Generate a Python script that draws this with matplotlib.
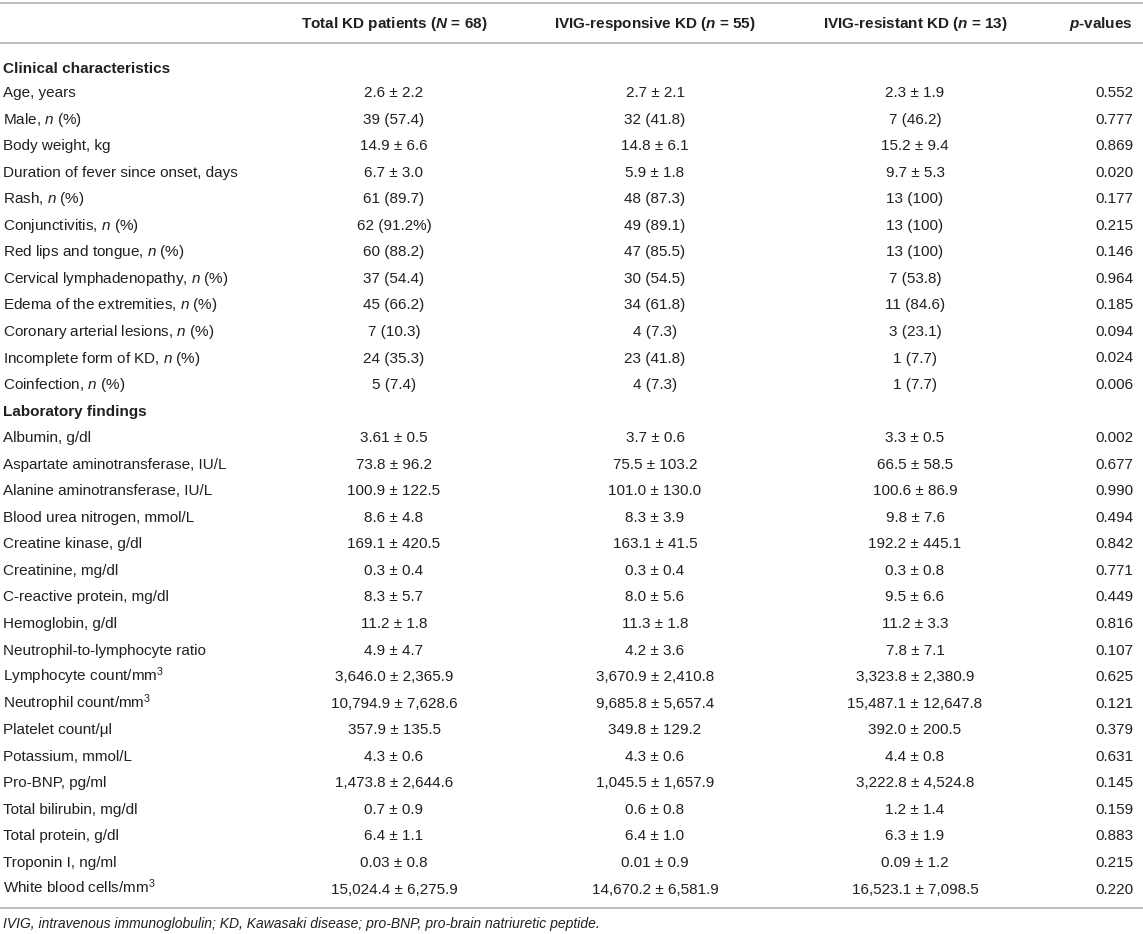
import matplotlib.pyplot as plt

plt.rcParams['font.family'] = ['Liberation Sans', 'DejaVu Sans']
plt.rcParams['mathtext.fontset'] = 'custom'
plt.rcParams['mathtext.rm'] = 'Liberation Sans'
plt.rcParams['mathtext.it'] = 'Liberation Sans:italic'
plt.rcParams['mathtext.bf'] = 'Liberation Sans:bold'
plt.rcParams['mathtext.bfit'] = 'Liberation Sans:italic:bold'

headers = ['Total KD patients ($\\mathbfit{N}$ = 68)',
           'IVIG-responsive KD ($\\mathbfit{n}$ = 55)',
           'IVIG-resistant KD ($\\mathbfit{n}$ = 13)',
           '$\\mathbfit{p}$-values']

clin_labels = ['Age, years', 'Male, $\\mathit{n}$ (%)', 'Body weight, kg',
               'Duration of fever since onset, days', 'Rash, $\\mathit{n}$ (%)',
               'Conjunctivitis, $\\mathit{n}$ (%)', 'Red lips and tongue, $\\mathit{n}$ (%)',
               'Cervical lymphadenopathy, $\\mathit{n}$ (%)',
               'Edema of the extremities, $\\mathit{n}$ (%)',
               'Coronary arterial lesions, $\\mathit{n}$ (%)',
               'Incomplete form of KD, $\\mathit{n}$ (%)', 'Coinfection, $\\mathit{n}$ (%)']
clin_total = ['2.6 ± 2.2', '39 (57.4)', '14.9 ± 6.6', '6.7 ± 3.0', '61 (89.7)', '62 (91.2%)',
              '60 (88.2)', '37 (54.4)', '45 (66.2)', '7 (10.3)', '24 (35.3)', '5 (7.4)']
clin_resp = ['2.7 ± 2.1', '32 (41.8)', '14.8 ± 6.1', '5.9 ± 1.8', '48 (87.3)', '49 (89.1)',
             '47 (85.5)', '30 (54.5)', '34 (61.8)', '4 (7.3)', '23 (41.8)', '4 (7.3)']
clin_res = ['2.3 ± 1.9', '7 (46.2)', '15.2 ± 9.4', '9.7 ± 5.3', '13 (100)', '13 (100)',
            '13 (100)', '7 (53.8)', '11 (84.6)', '3 (23.1)', '1 (7.7)', '1 (7.7)']
clin_p = ['0.552', '0.777', '0.869', '0.020', '0.177', '0.215', '0.146', '0.964', '0.185',
          '0.094', '0.024', '0.006']

lab_labels = ['Albumin, g/dl', 'Aspartate aminotransferase, IU/L',
              'Alanine aminotransferase, IU/L', 'Blood urea nitrogen, mmol/L',
              'Creatine kinase, g/dl', 'Creatinine, mg/dl', 'C-reactive protein, mg/dl',
              'Hemoglobin, g/dl', 'Neutrophil-to-lymphocyte ratio',
              'Lymphocyte count/mm$^3$', 'Neutrophil count/mm$^3$', 'Platelet count/μl',
              'Potassium, mmol/L', 'Pro-BNP, pg/ml', 'Total bilirubin, mg/dl',
              'Total protein, g/dl', 'Troponin I, ng/ml', 'White blood cells/mm$^3$']
lab_total = ['3.61 ± 0.5', '73.8 ± 96.2', '100.9 ± 122.5', '8.6 ± 4.8', '169.1 ± 420.5',
             '0.3 ± 0.4', '8.3 ± 5.7', '11.2 ± 1.8', '4.9 ± 4.7', '3,646.0 ± 2,365.9',
             '10,794.9 ± 7,628.6', '357.9 ± 135.5', '4.3 ± 0.6', '1,473.8 ± 2,644.6',
             '0.7 ± 0.9', '6.4 ± 1.1', '0.03 ± 0.8', '15,024.4 ± 6,275.9']
lab_resp = ['3.7 ± 0.6', '75.5 ± 103.2', '101.0 ± 130.0', '8.3 ± 3.9', '163.1 ± 41.5',
            '0.3 ± 0.4', '8.0 ± 5.6', '11.3 ± 1.8', '4.2 ± 3.6', '3,670.9 ± 2,410.8',
            '9,685.8 ± 5,657.4', '349.8 ± 129.2', '4.3 ± 0.6', '1,045.5 ± 1,657.9',
            '0.6 ± 0.8', '6.4 ± 1.0', '0.01 ± 0.9', '14,670.2 ± 6,581.9']
lab_res = ['3.3 ± 0.5', '66.5 ± 58.5', '100.6 ± 86.9', '9.8 ± 7.6', '192.2 ± 445.1',
           '0.3 ± 0.8', '9.5 ± 6.6', '11.2 ± 3.3', '7.8 ± 7.1', '3,323.8 ± 2,380.9',
           '15,487.1 ± 12,647.8', '392.0 ± 200.5', '4.4 ± 0.8', '3,222.8 ± 4,524.8',
           '1.2 ± 1.4', '6.3 ± 1.9', '0.09 ± 1.2', '16,523.1 ± 7,098.5']
lab_p = ['0.002', '0.677', '0.990', '0.494', '0.842', '0.771', '0.449', '0.816', '0.107',
         '0.625', '0.121', '0.379', '0.631', '0.145', '0.159', '0.883', '0.215', '0.220']

footnote = ('IVIG, intravenous immunoglobulin; KD, Kawasaki disease; '
            'pro-BNP, pro-brain natriuretic peptide.')

W, H = 1143, 934
FS = 11
TXT = '#231f20'
LINE = '#b5b5b5'

fig = plt.figure(figsize=(W / 100, H / 100), dpi=100)
ax = fig.add_axes([0, 0, 1, 1])
ax.set_xlim(0, W)
ax.set_ylim(H, 0)
ax.axis('off')

x_label = 3
col_x = [394, 655, 915]
x_p = 1133
row_h = 26.55
y_first = 97  # baseline of "Age, years"

for y in (3, 43, 908):
    ax.plot([0, W], [y, y], color=LINE, lw=1.2, solid_capstyle='butt')

for x, h in zip(col_x, headers[:3]):
    ax.text(x, 28, h, ha='center', va='baseline', fontsize=FS, fontweight='bold', color=TXT)
ax.text(x_p, 28, headers[3], ha='right', va='baseline', fontsize=FS, fontweight='bold', color=TXT)


def section(y_title, y_start, title, labels, c1, c2, c3, pv):
    ax.text(x_label, y_title, title, ha='left', va='baseline',
            fontsize=FS, fontweight='bold', color=TXT)
    for i, lab in enumerate(labels):
        y = y_start + i * row_h
        ax.text(x_label, y, lab, ha='left', va='baseline', fontsize=FS, color=TXT)
        for x, col in zip(col_x, (c1, c2, c3)):
            ax.text(x, y, col[i], ha='center', va='baseline', fontsize=FS, color=TXT)
        ax.text(x_p, y, pv[i], ha='right', va='baseline', fontsize=FS, color=TXT)


section(73, y_first, 'Clinical characteristics', clin_labels, clin_total, clin_resp,
        clin_res, clin_p)
n1 = len(clin_labels)
section(y_first + n1 * row_h, y_first + (n1 + 1) * row_h, 'Laboratory findings',
        lab_labels, lab_total, lab_resp, lab_res, lab_p)

ax.text(x_label, 928, footnote, ha='left', va='baseline', fontsize=FS - 1,
        style='italic', color=TXT)

fig.savefig('out.png', dpi=100)
